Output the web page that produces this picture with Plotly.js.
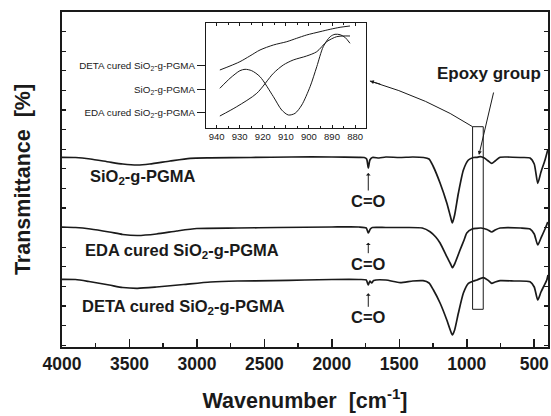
<!DOCTYPE html>
<html>
<head>
<meta charset="utf-8">
<script src="https://cdn.plot.ly/plotly-3.0.1.min.js"></script>
<style>html,body{margin:0;padding:0;background:#fff;}#chart{width:551px;height:416px;}</style>
</head>
<body>
<div id="chart"></div>
<script>
// Main spectra (wavenumber, cm^-1) and offset transmittance (arbitrary units)
var wnSiO2 = [4000,3900,3790,3650,3550,3440,3350,3200,3050,2900,2600,2300,2000,1800,1760,1742,1730,1718,1700,1650,1600,1500,1400,1320,1280,1250,1198,1148,1120,1107,1090,1062,1025,988,950,926,901,870,840,815,790,753,700,600,531,500,474,450,420,400];
var tSiO2  = [189.7,189.5,188,185,183,182,183,186,188.7,189.2,189.5,190,190,189.7,189.5,188,179,187,189.5,189,190,189.5,190,189.5,188,181,164,144,130,124,132,154,177,187,189.5,189.7,190.3,189,186,183.7,186,189.7,190,189.5,189,183,163.7,175,187,197];

var wnEDA = [4000,3900,3790,3650,3550,3440,3300,3150,3000,2700,2400,2000,1800,1745,1730,1715,1700,1600,1450,1330,1272,1230,1198,1148,1120,1107,1090,1050,1020,1000,960,926,895,850,815,790,753,600,531,500,474,450,420,400];
var tEDA  = [120,119.5,118,115,112.5,111.5,113,116,118.5,119,119.5,120,120,119,114,118,119.5,119.5,119.5,119,115.3,110,104,90.3,83,79.3,83,97,107,114,118,118.7,119,117.5,115,117,119,119,118,113,102,109,118,125];

var wnDETA = [4000,3900,3800,3650,3550,3440,3300,3100,2900,2700,2435,2200,2000,1800,1745,1730,1718,1705,1690,1600,1494,1400,1324,1280,1247,1198,1148,1120,1107,1090,1062,1025,988,950,926,877,840,815,790,753,650,531,500,474,450,407,398];
var tDETA  = [67.7,67.5,65.5,62,59.5,58.7,60,62.5,65,66,66.3,67,67.5,67.5,67,62,66,64,66.5,67,64.3,66,66.3,64,57,44,27,16,12,17,34,54,63.7,66,67,69.3,66.5,63.7,65,66.3,66,65.3,60,47,55,67,72];

// Inset (epoxy region, 940-880 cm^-1)
var inWnDETA = [938.6,934.2,929.9,925.6,921.2,915.4,909.6,905.3,901.0,895.2,890.8,886.5,882.2];
var inDETA   = [57.7,61.7,66,71.7,77.7,82.7,86,89.4,92.7,96,98.4,100.4,101.7];
var inWnSiO2 = [938.6,934.2,929.9,927.7,924.8,921.2,915.4,911.8,908.9,906.0,903.1,899.5,896.6,893.8,890.8,888.7,886.5,884.4,882.2];
var inSiO2   = [39.4,49.4,57,58.4,57,51,31,17.7,12.7,14.4,22.7,41,61,81,91,93.4,93,90.4,84.4];
var inWnEDA  = [938.6,931.3,922.6,915.4,911.1,906.8,901.0,896.6,892.3,888.0,885.1,882.2];
var inEDA    = [11.7,21,34.4,54.4,62.7,67.7,71.7,76,86,91,91.7,91.7];

var insetTickVals = [62.2, 37.7, 15];
var insetTickText = ['DETA cured SiO<sub>2</sub>-g-PGMA', 'SiO<sub>2</sub>-g-PGMA', 'EDA cured SiO<sub>2</sub>-g-PGMA'];
var mainTickVals = [4000,3500,3000,2500,2000,1500,1000,500];

var ink = '#1a1a1a';
var lineMain = {color: ink, width: 1.7, shape: 'spline', smoothing: 0.6};
var lineIn = {color: ink, width: 1, shape: 'spline', smoothing: 0.8};

var data = [
  {x: wnSiO2, y: tSiO2, mode: 'lines', line: lineMain, xaxis: 'x', yaxis: 'y', hoverinfo: 'skip'},
  {x: wnEDA, y: tEDA, mode: 'lines', line: lineMain, xaxis: 'x', yaxis: 'y', hoverinfo: 'skip'},
  {x: wnDETA, y: tDETA, mode: 'lines', line: lineMain, xaxis: 'x', yaxis: 'y', hoverinfo: 'skip'},
  {x: inWnDETA, y: inDETA, mode: 'lines', line: lineIn, xaxis: 'x2', yaxis: 'y2', hoverinfo: 'skip'},
  {x: inWnSiO2, y: inSiO2, mode: 'lines', line: lineIn, xaxis: 'x2', yaxis: 'y2', hoverinfo: 'skip'},
  {x: inWnEDA, y: inEDA, mode: 'lines', line: lineIn, xaxis: 'x2', yaxis: 'y2', hoverinfo: 'skip'}
];

var bold = {family: 'Liberation Sans, Arial, sans-serif', color: ink, weight: 'bold'};
function bf(size){ return Object.assign({}, bold, {size: size}); }
var reg = {family: 'Liberation Sans, Arial, sans-serif', color: ink, size: 9.5};

var layout = {
  width: 551, height: 416,
  margin: {l: 62, r: 3, t: 12, b: 69, pad: 0},
  paper_bgcolor: '#fff', plot_bgcolor: 'rgba(0,0,0,0)',
  showlegend: false,
  xaxis: {
    range: [4000, 398], autorange: false,
    tickvals: mainTickVals, ticks: 'inside', ticklen: 8, tickwidth: 1.5, tickcolor: ink,
    minor: {dtick: 250, tick0: 0, ticks: 'inside', ticklen: 4, tickwidth: 1.5, tickcolor: ink},
    showline: true, linewidth: 2, linecolor: ink, mirror: true,
    showgrid: false, zeroline: false,
    tickfont: bf(17.5),
    title: {text: 'Wavenumber  [cm<sup>-1</sup>]', font: bf(21.5), standoff: 20}
  },
  yaxis: {
    range: [0, 335], autorange: false,
    showticklabels: false,
    tick0: 1.8, dtick: 19.6, ticks: 'inside', ticklen: 4, tickwidth: 1.2, tickcolor: ink,
    showline: true, linewidth: 2, linecolor: ink, mirror: 'ticks',
    showgrid: false, zeroline: false,
    title: {text: 'Transmittance  [%]', font: bf(21.5), standoff: 23}
  },
  xaxis2: {
    domain: [0.2963, 0.6249], anchor: 'y2',
    range: [944.6, 875.4], autorange: false,
    dtick: 10, tick0: 0, ticks: 'inside', ticklen: 3, tickwidth: 1, tickcolor: ink,
    minor: {dtick: 5, ticks: 'inside', ticklen: 2, tickwidth: 1, tickcolor: ink},
    showline: true, linewidth: 1, linecolor: ink, mirror: 'ticks',
    showgrid: false, zeroline: false,
    tickfont: reg
  },
  yaxis2: {
    domain: [0.6546, 0.9663], anchor: 'x2',
    range: [0, 104.4], autorange: false,
    tickvals: insetTickVals, ticktext: insetTickText,
    ticks: 'outside', ticklen: 8, tickwidth: 1, tickcolor: ink,
    showline: true, linewidth: 1, linecolor: ink, mirror: true,
    showgrid: false, zeroline: false,
    tickfont: {family: 'Liberation Sans, Arial, sans-serif', color: ink, size: 9.8}
  },
  shapes: [
    {type: 'rect', xref: 'x', yref: 'y', x0: 957, x1: 878, y0: 37.7, y1: 220.3,
     line: {color: ink, width: 1}},
    {type: 'path', xref: 'x', yref: 'y', path: 'M 1718,266 Q 1273,248 957,220.3',
     line: {color: ink, width: 1}}
  ],
  annotations: [
    {x: 3805, y: 169.7, xref: 'x', yref: 'y', xanchor: 'left', yanchor: 'middle', showarrow: false,
     text: 'SiO<sub>2</sub>-g-PGMA', font: bf(16.5)},
    {x: 3847, y: 96.3, xref: 'x', yref: 'y', xanchor: 'left', yanchor: 'middle', showarrow: false,
     text: 'EDA cured SiO<sub>2</sub>-g-PGMA', font: bf(16.5)},
    {x: 3867, y: 40.3, xref: 'x', yref: 'y', xanchor: 'left', yanchor: 'middle', showarrow: false,
     text: 'DETA cured SiO<sub>2</sub>-g-PGMA', font: bf(16.5)},
    {x: 1730, y: 174, xref: 'x', yref: 'y', text: 'C=O', font: bf(16.5), showarrow: true,
     ax: 0, ay: 28, arrowhead: 1, arrowsize: 0.8, arrowwidth: 1, arrowcolor: ink},
    {x: 1730, y: 104.3, xref: 'x', yref: 'y', text: 'C=O', font: bf(16.5), showarrow: true,
     ax: 0, ay: 21, arrowhead: 1, arrowsize: 0.8, arrowwidth: 1, arrowcolor: ink},
    {x: 1730, y: 53.7, xref: 'x', yref: 'y', text: 'C=O', font: bf(16.5), showarrow: true,
     ax: 0, ay: 24, arrowhead: 1, arrowsize: 0.8, arrowwidth: 1, arrowcolor: ink},
    {x: 836, y: 274, xref: 'x', yref: 'y', text: 'Epoxy group', font: bf(17), showarrow: false},
    {x: 910, y: 192, xref: 'x', yref: 'y', text: '', showarrow: true,
     ax: 15, ay: -64, arrowhead: 2, arrowsize: 0.8, arrowwidth: 1, arrowcolor: ink},
    {x: 1718, y: 266, xref: 'x', yref: 'y', text: '', showarrow: true,
     ax: 12, ay: 3.6, arrowhead: 2, arrowsize: 0.8, arrowwidth: 1, arrowcolor: ink}
  ]
};

Plotly.newPlot('chart', data, layout, {staticPlot: true, displayModeBar: false});
</script>
</body>
</html>
